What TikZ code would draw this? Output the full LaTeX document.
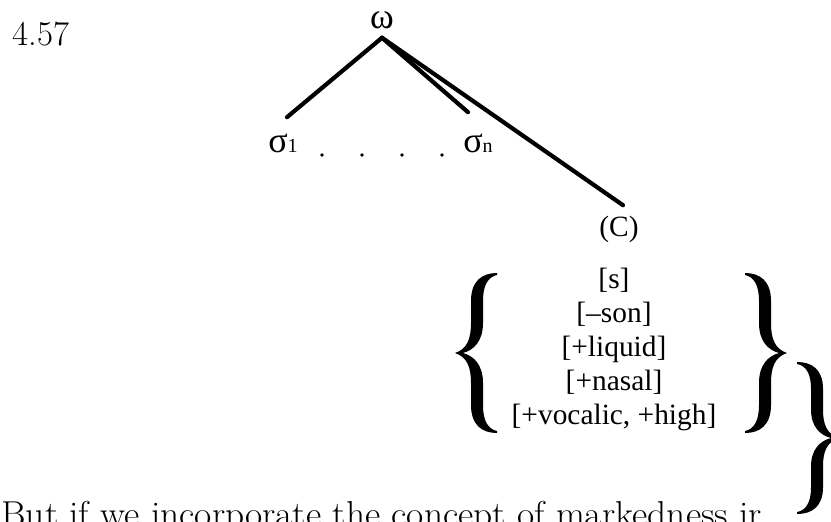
\documentclass[tikz,border=0pt]{standalone}
\usepackage{fontspec}
\usepackage{tikz}
\usetikzlibrary{positioning}
\newfontfamily\treefont{Liberation Serif}

\tikzset{
  curly/.pic={
    \fill (-21,0) .. controls (-9,-4) and (-5,-14) .. (-5,-30) -- (-5,-52)
      .. controls (-5,-72) and (6,-80) .. (21,-80) -- (21,-78)
      .. controls (12,-76) and (7,-68) .. (7,-52) -- (7,-30)
      .. controls (7,-12) and (-2,-3) .. (-13,0)
      .. controls (-2,3) and (7,12) .. (7,30) -- (7,52)
      .. controls (7,68) and (12,76) .. (21,78) -- (21,80)
      .. controls (6,80) and (-5,72) .. (-5,52) -- (-5,30)
      .. controls (-5,14) and (-9,4) .. (-21,0) -- cycle;
  }
}

\begin{document}
\begin{tikzpicture}[
  x=0.5pt, y=-0.5pt,
  lbl/.style={inner sep=2pt, font=\treefont\fontsize{14.7}{17}\selectfont},
  greek/.style={inner sep=2pt, font=\treefont\fontsize{18}{20}\selectfont},
  feat/.style={inner sep=0pt, align=center, font=\treefont\fontsize{14.7}{17}\selectfont},
  num/.style={inner sep=0pt, font=\fontsize{17.4}{20}\selectfont},
  prose/.style={inner sep=0pt, font=\fontsize{18}{21}\selectfont, xscale=1.04, transform shape},
  branch/.style={line width=2.1pt, line cap=round},
  dotmark/.style={circle, fill=black, inner sep=0pt, minimum size=1.8pt},
]
  \useasboundingbox (0,0) rectangle (831,521);

  % Example number
  \node[num, anchor=base west] (num) at (12,45) {4.57};

  % Tree
  \node[greek, anchor=base] (omega) at (382,28) {ω};
  \node[greek, anchor=base] (sig1) at (283,152) {σ{\fontsize{10}{10}\selectfont 1}};
  \node[greek, anchor=base] (sign) at (478,152) {σ{\fontsize{10}{10}\selectfont n}};
  \node[lbl, anchor=base] (cons) at (619,236) {(C)};
  \foreach \x [count=\i] in {322,362,402,442}
    \node[dotmark] (dot\i) at (\x,155) {};

  \draw[branch] ([yshift=-2.5pt]omega.south) -- ([shift={(2pt,6pt)}]sig1.north);
  \draw[branch] ([yshift=-2.5pt]omega.south) -- ([shift={(-5pt,8.5pt)}]sign.north);
  \draw[branch] ([yshift=-2.5pt]omega.south) -- ([shift={(2pt,3pt)}]cons.north);

  % Feature set
  \node[feat] (feats) at (614,349) {[s]\\{[–son]}\\{[+liquid]}\\{[+nasal]}\\{[+vocalic, +high]}};
  \pic (lbrace) at (476,353) {curly};
  \pic[xscale=-1] (rbrace) at (766,353) {curly};
  \pic[xscale=-1, yscale=0.95] (obrace) at (818,438) {curly};

  % Running text
  \node[prose, anchor=base west] (prose) at (1,526) {But if we incorporate the concept of markedness ir};
\end{tikzpicture}
\end{document}
